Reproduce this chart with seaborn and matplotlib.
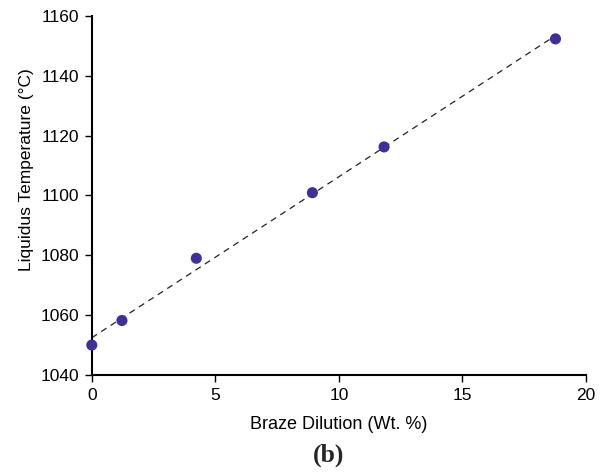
import numpy as np
import pandas as pd
import matplotlib
matplotlib.use("Agg")
import matplotlib.pyplot as plt
import seaborn as sns

# data
dilution = [0.0, 1.22, 4.23, 8.93, 11.83, 18.77]
liquidus = [1050.0, 1058.2, 1079.0, 1100.9, 1116.2, 1152.3]

df = pd.DataFrame({"dilution": dilution, "liquidus": liquidus})

# linear fit for the dashed trend line
slope, intercept = np.polyfit(df["dilution"], df["liquidus"], 1)
fit = pd.DataFrame({"dilution": [min(dilution), max(dilution)]})
fit["liquidus"] = intercept + slope * fit["dilution"]

sns.set_style("ticks")
plt.rcParams["font.family"] = ["Liberation Sans", "DejaVu Sans"]

fig = plt.figure(figsize=(6.04, 4.72), dpi=100)
ax = fig.add_axes([0.152, 0.2055, 0.818, 0.761])

sns.lineplot(data=fit, x="dilution", y="liquidus", ax=ax, color="#222222",
             linestyle=(0, (5, 4)), linewidth=0.9)
sns.scatterplot(data=df, x="dilution", y="liquidus", ax=ax, color="#3f2f9a",
                s=64, edgecolor="none", zorder=3, clip_on=False)

ax.set_xlim(0, 20)
ax.set_ylim(1040, 1160)
ax.set_xticks([0, 5, 10, 15, 20])
ax.set_yticks(range(1040, 1161, 20))
ax.tick_params(labelsize=12.5, length=5, width=1.0, pad=4,
               color="black", labelcolor="black")
for side in ["left", "bottom"]:
    ax.spines[side].set_linewidth(1.5)
    ax.spines[side].set_color("black")
sns.despine(ax=ax)

ax.set_xlabel("Braze Dilution (Wt. %)", fontsize=13, labelpad=10, color="black")
ax.set_ylabel("Liquidus Temperature (\u00b0C)", fontsize=12.5, color="black")
ax.yaxis.set_label_coords(-0.117, 0.571)

fig.text(0.5445, 0.036, "(b)", ha="center", va="center", fontsize=18.5,
         fontweight="bold", family=["Liberation Serif", "DejaVu Serif"])

fig.savefig("out.png", dpi=100)
